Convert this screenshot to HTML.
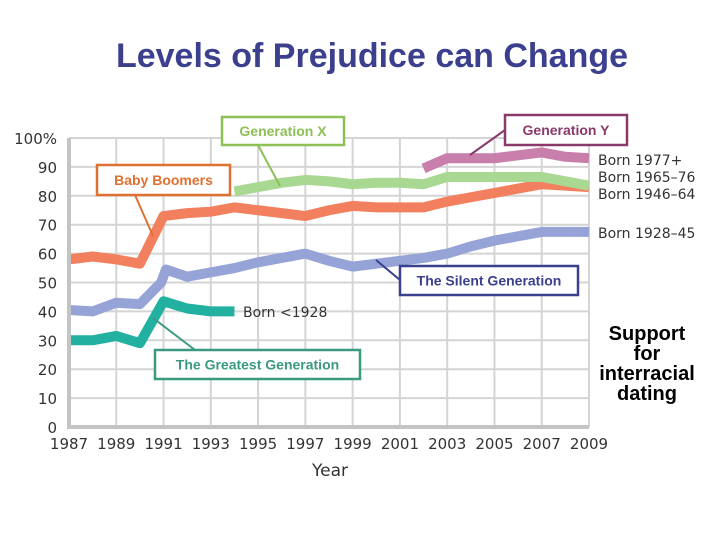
<!DOCTYPE html>
<html><head><meta charset="utf-8"><style>
body{margin:0;background:#fff;}
svg{display:block;font-family:"DejaVu Sans","Liberation Sans",sans-serif;}
</style></head><body>
<svg width="720" height="540" viewBox="0 0 720 540">
<text x="372" y="67" text-anchor="middle" font-family="Liberation Sans, sans-serif" font-weight="bold" font-size="34" fill="#3b3f8e">Levels of Prejudice can Change</text>
<g id="grid"></g><g id="series"></g><g id="axes"></g>
<g id="annot" font-family="Liberation Sans, sans-serif" font-weight="bold" font-size="14"></g>
<text x="647" y="340" text-anchor="middle" font-family="Liberation Sans, sans-serif" font-weight="bold" font-size="20" fill="#000"><tspan x="647">Support</tspan><tspan x="647" dy="20">for</tspan><tspan x="647" dy="20">interracial</tspan><tspan x="647" dy="20">dating</tspan></text>
<text x="330" y="476" text-anchor="middle" font-size="17" fill="#333">Year</text>
</svg>
<script>
const xTicks=[1987,1989,1991,1993,1995,1997,1999,2001,2003,2005,2007,2009];
const yTicks=[0,10,20,30,40,50,60,70,80,90,100];
const greatestYears=[1987,1988,1989,1990,1991,1992,1993,1994];
const greatestVals=[30,30,31.5,29,43.5,41,40,40];
const silentYears=[1987,1988,1989,1990,1990.9,1991.1,1992,1993,1994,1995,1996,1997,1998,1999,2000,2001,2002,2003,2004,2005,2006,2007,2008,2009];
const silentVals=[40.5,40,43,42.5,50,54.5,52,53.5,55,57,58.5,60,57.5,55.5,56.5,57.5,58.5,60,62.5,64.5,66,67.5,67.5,67.5];
const boomerYears=[1987,1988,1989,1990,1991,1992,1993,1994,1995,1996,1997,1998,1999,2000,2001,2002,2003,2004,2005,2006,2007,2008,2009];
const boomerVals=[58,59,58,56.5,73,74,74.5,76,75,74,73,75,76.5,76,76,76,78,79.5,81,82.5,84,83.5,83];
const genXYears=[1994,1995,1996,1997,1998,1999,2000,2001,2002,2003,2004,2005,2006,2007,2008,2009];
const genXVals=[81.5,83,84.5,85.5,85,84,84.5,84.5,84,86.5,86.5,86.5,86.5,86.5,85,83.5];
const genYYears=[2002,2003,2004,2005,2006,2007,2008,2009];
const genYVals=[89.5,93,93,93,94,95,93.5,93];
const NS='http://www.w3.org/2000/svg';
const X=y=>69+(y-1987)*(520/22);
const Y=v=>427-v*2.89;
function mk(tag,attrs,parent,text){const e=document.createElementNS(NS,tag);for(const k in attrs)e.setAttribute(k,attrs[k]);if(text!==undefined)e.textContent=text;document.getElementById(parent).appendChild(e);return e;}
yTicks.forEach(v=>{
 const l=mk('line',{x1:X(1987),x2:X(2009),y1:Y(v),y2:Y(v),stroke:'#d4d4d4','stroke-width':2},'grid');
 
 
 const t=mk('text',{x:57,y:Y(v)+6,'text-anchor':'end','font-size':15,fill:'#333'},'axes',v===100?'100%':String(v));
 
 
});
xTicks.forEach(yr=>{
 const l=mk('line',{x1:X(yr),x2:X(yr),y1:Y(0),y2:Y(100),stroke:'#d4d4d4','stroke-width':2},'grid');
 
 
 const t=mk('text',{x:X(yr),y:449,'text-anchor':'middle','font-size':15,fill:'#333'},'axes',String(yr));
 
 
});
const ax=mk('path',{d:`M${X(1987)} ${Y(100)}V${Y(0)}H${X(2009)}`,fill:'none',stroke:'#c4c4c4','stroke-width':4},'axes');


const series=[
 ['greatest-line',greatestYears,greatestVals,'#22b0a0'],
 ['silent-line',silentYears,silentVals,'#95a3d6'],
 ['boomer-line',boomerYears,boomerVals,'#f2805e'],
 ['genx-line',genXYears,genXVals,'#a9d892'],
 ['geny-line',genYYears,genYVals,'#c97fab']];
series.forEach(([n,xs,vs,c])=>{
 const p=mk('polyline',{points:xs.map((x,i)=>X(x)+','+Y(vs[i])).join(' '),fill:'none',stroke:c,'stroke-width':10,'stroke-linejoin':'round'},'series');
 
 
});
const labels=[['Born 1977+',165],['Born 1965–76',182],['Born 1946–64',199],['Born 1928–45',238]];
labels.forEach(([t,y])=>{const e=mk('text',{x:598,y:y,'font-size':14,fill:'#333'},'axes',t);
 
 });
const b=mk('text',{x:243,y:317,'font-size':14,fill:'#333'},'axes','Born <1928');


const boxes=[
 ['genx-callout','Generation  X',222,117,122,28,'#8dc055',[258,145,280,186]],
 ['geny-callout','Generation  Y',505,115,122,30,'#8a3a6a',[505,130,470,155]],
 ['boomers-callout','Baby Boomers',97,165,133,30,'#e07030',[135,195,153,236]],
 ['silent-callout','The Silent Generation',400,266,178,29,'#3a4090',[376,260,400,280]],
 ['greatest-callout','The Greatest Generation',155,350,205,29,'#3a9a80',[153,318,195,350]]];
boxes.forEach(([n,t,x,y,w,h,c,ln])=>{
 const l=mk('line',{x1:ln[0],y1:ln[1],x2:ln[2],y2:ln[3],stroke:c,'stroke-width':2},'annot');
 
 
 const r=mk('rect',{x:x,y:y,width:w,height:h,fill:'#fff',stroke:c,'stroke-width':2.5},'annot');
 
 
 const tx=mk('text',{x:x+w/2,y:y+h/2+5,'text-anchor':'middle',fill:c},'annot',t);
 
 
});
</script>
</body></html>
